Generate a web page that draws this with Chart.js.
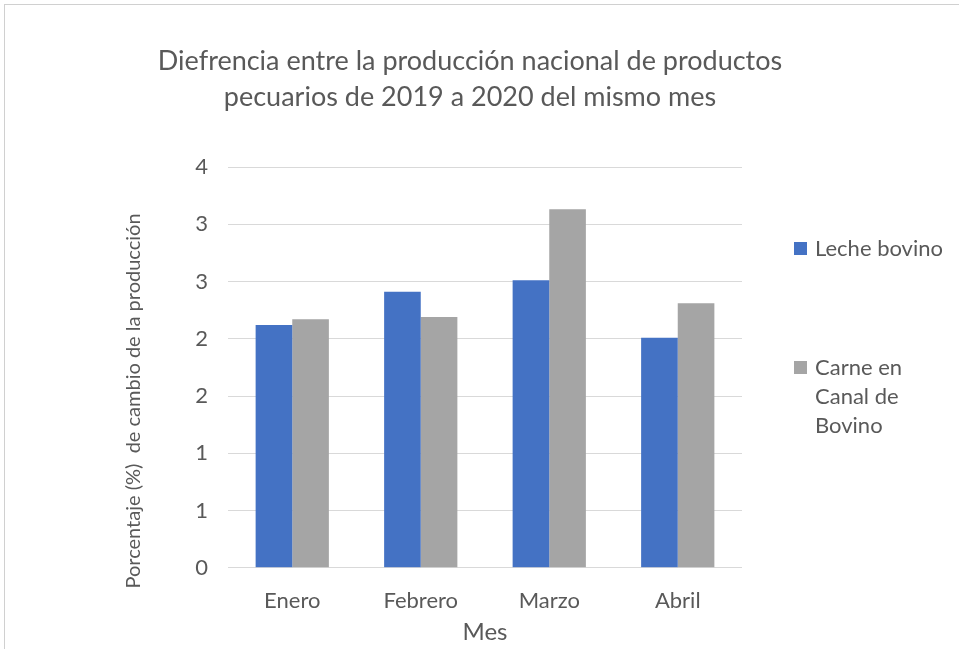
<!DOCTYPE html>
<html>
<head>
<meta charset="utf-8">
<script src="https://cdn.jsdelivr.net/npm/chart.js@4.4.1/dist/chart.umd.min.js"></script>
<style>
  html, body { margin: 0; padding: 0; background: #fff; overflow: hidden; }
  #frame { position: absolute; left: 4px; top: 4px; width: 1200px; height: 1000px; border: 1px solid #d0d0d0; }
  #wrap { position: absolute; left: 0; top: 0; width: 959px; height: 649px; }
</style>
</head>
<body>
<div id="frame"></div>
<div id="wrap"><canvas id="chart"></canvas></div>
<script>
// Data
const months = ['Enero', 'Febrero', 'Marzo', 'Abril'];
const lecheBovino = [2.12, 2.41, 2.51, 2.01];
const carneCanal = [2.17, 2.19, 3.13, 2.31];
const seriesNames = ['Leche bovino', 'Carne en Canal de Bovino'];
const yTickLabels = ['0', '1', '1', '2', '2', '3', '3', '4'];
const titleLines = ['Diefrencia entre la producción nacional de productos', 'pecuarios de 2019 a 2020 del mismo mes'];
const yAxisTitle = 'Porcentaje (%)  de cambio de la producción';
const xAxisTitle = 'Mes';

const FONT = "Lato, 'Open Sans', sans-serif";
const TEXT = '#595959';
const COLORS = { blue: '#4472C4', gray: '#A5A5A5' };

// chart title, y-axis title (offset like the original) and the wrapped legend
const sideText = {
  id: 'sideText',
  afterDraw(chart) {
    const c = chart.ctx;
    const area = chart.chartArea;
    c.save();
    c.fillStyle = TEXT;
    c.textBaseline = 'middle';

    // title, centred over the whole chart frame
    c.font = '27px ' + FONT;
    c.textAlign = 'center';
    titleLines.forEach((ln, i) => c.fillText(ln, 470, 61 + i * 36));

    // rotated axis title
    c.font = '20px ' + FONT;
    c.translate(134, 401);
    c.rotate(-Math.PI / 2);
    c.fillText(yAxisTitle, 0, 0);
    c.setTransform(1, 0, 0, 1, 0, 0);

    // legend
    c.font = '22px ' + FONT;
    c.textAlign = 'left';
    const boxX = area.right + 52;
    const textX = boxX + 21;
    const maxW = 136;
    const lineH = 29;
    let y = 249;
    chart.data.datasets.forEach(ds => {
      const words = ds.label.split(' ');
      const lines = [];
      let cur = '';
      words.forEach(w => {
        const t = cur ? cur + ' ' + w : w;
        if (cur && c.measureText(t).width > maxW) { lines.push(cur); cur = w; }
        else cur = t;
      });
      lines.push(cur);
      c.fillStyle = ds.backgroundColor;
      c.fillRect(boxX, y - 7, 13, 13);
      c.fillStyle = TEXT;
      lines.forEach((ln, i) => c.fillText(ln, textX, y + i * lineH));
      y += 119;
    });
    c.restore();
  }
};

new Chart(document.getElementById('chart'), {
  type: 'bar',
  data: {
    labels: months,
    datasets: [
      { label: seriesNames[0], data: lecheBovino, backgroundColor: COLORS.blue },
      { label: seriesNames[1], data: carneCanal, backgroundColor: COLORS.gray },
    ],
  },
  options: {
    responsive: true,
    maintainAspectRatio: false,
    animation: false,
    datasets: { bar: { categoryPercentage: 0.57, barPercentage: 1.0 } },
    layout: { padding: { left: 194, right: 217, top: 167, bottom: 2 } },
    plugins: {
      legend: { display: false },
      tooltip: { enabled: false },
      title: { display: false },
    },
    scales: {
      x: {
        grid: { display: false, drawTicks: true, tickLength: 16 },
        border: { display: false },
        ticks: { color: TEXT, font: { family: FONT, size: 22 }, padding: 4 },
        title: {
          display: true,
          text: xAxisTitle,
          color: TEXT,
          font: { family: FONT, size: 24 },
          padding: { top: 0, bottom: 0 },
        },
      },
      y: {
        min: 0,
        max: 3.5,
        grid: { color: '#d9d9d9', drawTicks: false },
        border: { display: false },
        ticks: {
          stepSize: 0.5,
          color: TEXT,
          font: { family: FONT, size: 22 },
          padding: 20,
          callback: (v, i) => yTickLabels[i],
        },
        afterFit: s => { s.width = 34; },
      },
    },
  },
  plugins: [sideText],
});
</script>
</body>
</html>
